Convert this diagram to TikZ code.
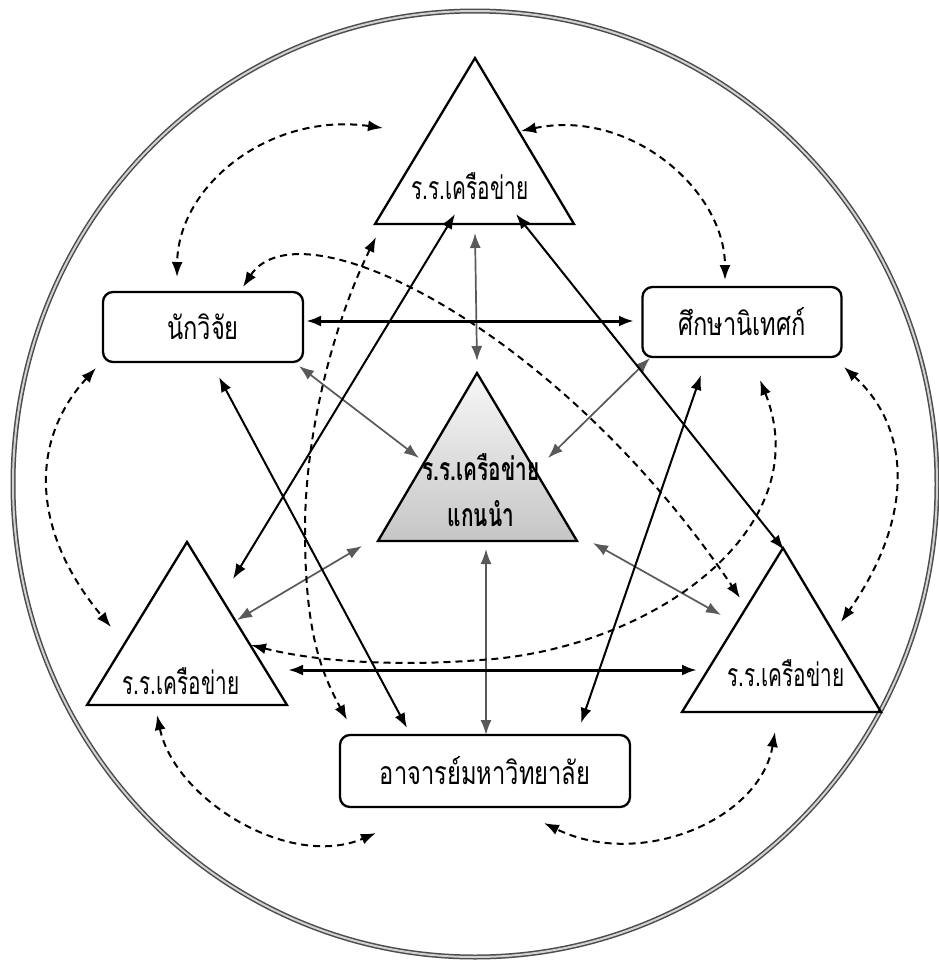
\documentclass[tikz,border=0pt]{standalone}
\usepackage{fontspec}
\newfontfamily\thai[Script=Thai,FakeStretch=0.74]{Loma}
\newfontfamily\thaic[Script=Thai,FakeStretch=0.65]{Loma}
\usetikzlibrary{arrows.meta}
\begin{document}
\begin{tikzpicture}[x=1pt,y=-1pt,
  bothtips/.style={{Latex[length=15pt,width=11pt]}-{Latex[length=15pt,width=11pt]}},
  solidarrow/.style={bothtips, line width=2pt, draw=black},
  thickarrow/.style={bothtips, line width=3pt, draw=black},
  greyarrow/.style={bothtips, line width=1.7pt, draw=black!65},
  dasharrow/.style={bothtips, line width=2pt, draw=black, dash pattern=on 7pt off 5pt},
  box/.style={draw, line width=2.3pt, rounded corners=10pt, inner sep=0pt, font=\thai\fontsize{32}{36}\selectfont},
  tri/.style={draw, line width=2.3pt, line join=miter},
  lbl/.style={inner sep=0pt, font=\thaic\fontsize{32}{36}\selectfont},
  boldlbl/.style={inner sep=0pt, font=\thaic\bfseries\fontsize{32}{36}\selectfont}]
\useasboundingbox (0,0) rectangle (939,962);
\fill[white] (0,0) rectangle (939,962);
% outer circle
\draw[draw=black!70, double=gray!35, line width=1.5pt, double distance=2pt] (475,484) ellipse [x radius=462pt, y radius=473pt];

% triangles
\draw[tri] (475,58) -- (574,224) -- (375,224) -- cycle;
\shade[top color=gray!6, bottom color=gray!45] (477,373) -- (577,541) -- (378,541) -- cycle;
\draw[tri] (477,373) -- (577,541) -- (378,541) -- cycle;
\draw[tri] (187,542) -- (287,705) -- (87,705) -- cycle;
\draw[tri] (783,548) -- (881,712) -- (682,712) -- cycle;

\node[lbl] (ttop) at (470,186) {ร.ร.เครือข่าย};
\node[boldlbl] (tc1) at (481,467) {ร.ร.เครือข่าย};
\node[boldlbl] (tc2) at (481,514) {แกนนำ};
\node[lbl] (tleft) at (181,681) {ร.ร.เครือข่าย};
\node[lbl] (tright) at (786,673) {ร.ร.เครือข่าย};

% boxes
\node[box, minimum width=200pt, minimum height=70pt] (res) at (203,327) {นักวิจัย};
\node[box, minimum width=199pt, minimum height=70pt] (sup) at (742,322) {ศึกษานิเทศก์};
\node[box, minimum width=290pt, minimum height=72pt] (uni) at (485,771) {อาจารย์มหาวิทยาลัย};

% endpoints
\coordinate (s1a) at (475,233); \coordinate (s1b) at (477,361);
\coordinate (s2a) at (306,321); \coordinate (s2b) at (634,321);
\coordinate (s3a) at (299,366); \coordinate (s3b) at (419,458);
\coordinate (s4a) at (650,358); \coordinate (s4b) at (548,458);
\coordinate (s5a) at (362,546); \coordinate (s5b) at (237,620);
\coordinate (s6a) at (593,543); \coordinate (s6b) at (721,615);
\coordinate (s7a) at (486,549); \coordinate (s7b) at (486,735);
\coordinate (s8a) at (288,670); \coordinate (s8b) at (697,670);
\coordinate (s9a) at (455,214); \coordinate (s9b) at (233,579);
\coordinate (s10a) at (516,214); \coordinate (s10b) at (784,550);
\coordinate (s11a) at (219,377); \coordinate (s11b) at (407,728);
\coordinate (s12a) at (701,375); \coordinate (s12b) at (581,723);

\draw[greyarrow] (s1a) -- (s1b);
\draw[thickarrow] (s2a) -- (s2b);
\draw[greyarrow] (s3a) -- (s3b);
\draw[greyarrow] (s4a) -- (s4b);
\draw[greyarrow] (s5a) -- (s5b);
\draw[greyarrow] (s6a) -- (s6b);
\draw[greyarrow] (s7a) -- (s7b);
\draw[thickarrow] (s8a) -- (s8b);
\draw[solidarrow] (s9a) -- (s9b);
\draw[solidarrow] (s10a) -- (s10b);
\draw[solidarrow] (s11a) -- (s11b);
\draw[solidarrow] (s12a) -- (s12b);

% dashed endpoints
\coordinate (da1) at (383,128); \coordinate (da2) at (177,277);
\coordinate (db1) at (521,131); \coordinate (db2) at (725,280);
\coordinate (dc1) at (96,368);  \coordinate (dc2) at (111,627);
\coordinate (dd1) at (844,367); \coordinate (dd2) at (841,622);
\coordinate (de1) at (157,715); \coordinate (de2) at (376,833);
\coordinate (df1) at (775,732); \coordinate (df2) at (544,823);
\coordinate (dg1) at (243,287); \coordinate (dg2) at (740,598);
\coordinate (dh1) at (376,237); \coordinate (dh2) at (347,720);
\coordinate (di1) at (251,645); \coordinate (di2) at (760,380);

\draw[dasharrow] (da1) .. controls (270,112) and (178,185) .. (da2);
\draw[dasharrow] (db1) .. controls (630,108) and (725,190) .. (db2);
\draw[dasharrow] (dc1) .. controls (30,440) and (30,530) .. (dc2);
\draw[dasharrow] (dd1) .. controls (913,430) and (913,520) .. (dd2);
\draw[dasharrow] (de1) .. controls (175,800) and (290,870) .. (de2);
\draw[dasharrow] (df1) .. controls (760,820) and (640,870) .. (df2);
\draw[dasharrow] (dg1) .. controls (300,200) and (560,330) .. (dg2);
\draw[dasharrow] (dh1) .. controls (335,320) and (305,430) .. (305,530) .. controls (305,630) and (320,670) .. (dh2);
\draw[dasharrow] (di1) .. controls (330,665) and (420,665) .. (480,660) .. controls (650,650) and (820,530) .. (di2);
\end{tikzpicture}
\end{document}
